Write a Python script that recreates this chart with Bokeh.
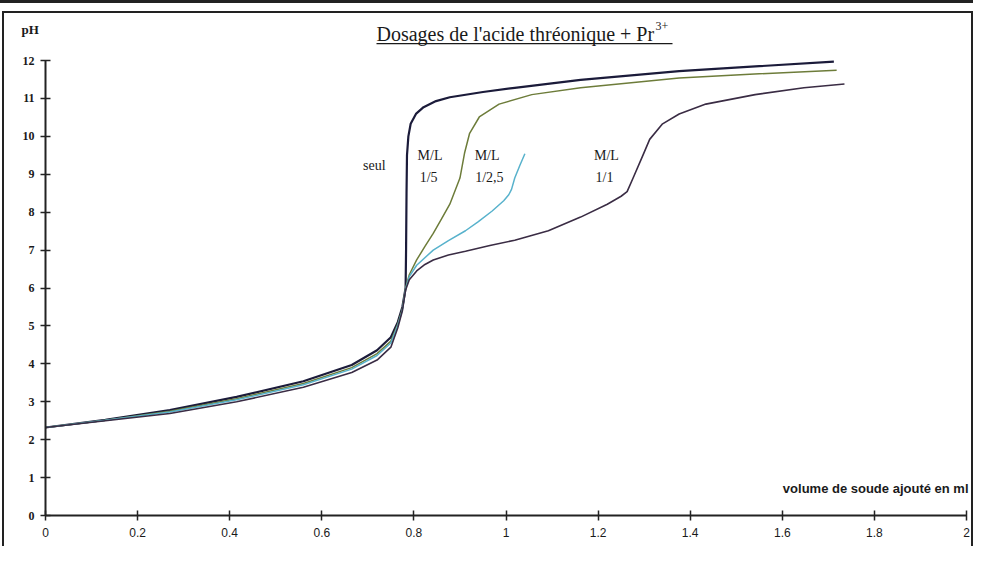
from bokeh.plotting import figure
from bokeh.models import Label, BoxAnnotation, FixedTicker, NumeralTickFormatter, Range1d, ColumnDataSource
from bokeh.core.properties import value
from bokeh.embed import file_html
from bokeh.resources import INLINE

# ---- data (volume of NaOH in ml, pH) ----
seul_x = [0, 0.13, 0.27, 0.415, 0.56, 0.665, 0.72, 0.75, 0.765, 0.775, 0.782,
          0.783, 0.784, 0.785, 0.788, 0.793, 0.805, 0.821, 0.848, 0.878, 0.95,
          1.019, 1.162, 1.376, 1.55, 1.712]
seul_y = [2.32, 2.52, 2.78, 3.13, 3.54, 3.97, 4.36, 4.7, 5.1, 5.5, 6.0,
          7.0, 8.5, 9.5, 10.0, 10.33, 10.6, 10.77, 10.93, 11.03, 11.17,
          11.28, 11.49, 11.72, 11.85, 11.97]

ml15_x = [0, 0.13, 0.27, 0.415, 0.56, 0.665, 0.72, 0.75, 0.765, 0.775, 0.782,
          0.79, 0.806, 0.824, 0.842, 0.86, 0.878, 0.9, 0.91, 0.921, 0.942,
          0.985, 1.056, 1.162, 1.376, 1.55, 1.718]
ml15_y = [2.32, 2.51, 2.75, 3.08, 3.48, 3.9, 4.27, 4.6, 5.05, 5.45, 6.0,
          6.35, 6.74, 7.1, 7.44, 7.82, 8.21, 8.9, 9.56, 10.08, 10.51,
          10.85, 11.1, 11.28, 11.54, 11.65, 11.74]

ml125_x = [0, 0.13, 0.27, 0.415, 0.56, 0.665, 0.72, 0.75, 0.765, 0.775, 0.782,
           0.79, 0.806, 0.842, 0.875, 0.912, 0.94, 0.97, 0.995, 1.006, 1.012,
           1.019, 1.03, 1.041]
ml125_y = [2.32, 2.51, 2.73, 3.05, 3.45, 3.86, 4.22, 4.55, 5.02, 5.42, 5.98,
           6.3, 6.6, 7.0, 7.25, 7.51, 7.75, 8.03, 8.3, 8.46, 8.6,
           8.9, 9.23, 9.54]

ml11_x = [0, 0.13, 0.27, 0.415, 0.56, 0.665, 0.72, 0.75, 0.765, 0.775, 0.782,
          0.79, 0.806, 0.824, 0.842, 0.875, 0.912, 0.965, 1.019, 1.092, 1.162,
          1.22, 1.25, 1.263, 1.276, 1.297, 1.312, 1.34, 1.376, 1.434, 1.541,
          1.647, 1.735]
ml11_y = [2.32, 2.5, 2.69, 3.0, 3.38, 3.77, 4.1, 4.44, 4.95, 5.4, 5.95,
          6.22, 6.45, 6.62, 6.74, 6.87, 6.97, 7.12, 7.26, 7.51, 7.87,
          8.21, 8.42, 8.54, 8.9, 9.49, 9.92, 10.33, 10.59, 10.85, 11.1,
          11.28, 11.38]

curve_label_x = [0.714, 0.835, 0.832, 0.959, 0.964, 1.218, 1.214]
curve_label_y = [9.23, 9.49, 8.92, 9.49, 8.92, 9.49, 8.92]
curve_label_text = ["seul", "M/L", "1/5", "M/L", "1/2,5", "M/L", "1/1"]

x_ticks = [0, 0.2, 0.4, 0.6, 0.8, 1, 1.2, 1.4, 1.6, 1.8, 2]
y_ticks = [0, 1, 2, 3, 4, 5, 6, 7, 8, 9, 10, 11, 12]

title_text = "Dosages de l'acide thréonique + Pr"
title_sup = "3+"
y_title = "pH"
x_title = "volume de soude ajouté en ml"

W, H = 973, 546
INK = "#1a1a1a"

# layout: axes drawn inside a full-canvas frame
X0, X2 = 45.0, 966.0      # canvas x of volume 0 and 2
Y0, Y12 = 515.0, 60.0     # canvas y of pH 0 and 12
sx = (X2 - X0) / 2.0
sy = (Y0 - Y12) / 12.0
x_range = Range1d(-X0 / sx, 2 + (W - X2) / sx)
y_range = Range1d(-(H - Y0) / sy, 12 + Y12 / sy)

p = figure(width=W, height=H, x_range=x_range, y_range=y_range,
           output_backend="svg", toolbar_location=None,
           min_border_left=0, min_border_right=0, min_border_top=0, min_border_bottom=0,
           background_fill_alpha=0, border_fill_alpha=0)
p.outline_line_color = None
p.xgrid.visible = False
p.ygrid.visible = False

# page frame lines (behind the transparent canvas)
p.styles = {
    "background-color": "white",
    "background-image": ", ".join(["linear-gradient(#222,#222)"] * 4),
    "background-repeat": "no-repeat",
    "background-size": "973px 3px, 970px 2px, 2px 540px, 2px 540px",
    "background-position": "0px 0px, 2px 11px, 2px 11px, 971px 11px",
}

for ax in (p.xaxis[0], p.yaxis[0]):
    ax.fixed_location = 0
    ax.axis_line_color = "#222222"
    ax.axis_line_width = 2
    ax.major_tick_line_color = "#222222"
    ax.major_tick_line_width = 1.5
    ax.minor_tick_line_color = None
    ax.major_tick_in = 5
    ax.major_tick_out = 5

p.xaxis.bounds = (0, 2)
p.yaxis.bounds = (0, 12)

p.xaxis.ticker = FixedTicker(ticks=x_ticks)
p.xaxis.formatter = NumeralTickFormatter(format="0.[0]")
p.xaxis.major_label_text_font = "Liberation Sans"
p.xaxis.major_label_text_font_size = "12px"
p.xaxis.major_label_text_color = INK
p.xaxis.major_label_standoff = 7

p.yaxis.ticker = FixedTicker(ticks=y_ticks)
p.yaxis.major_label_text_font = "Liberation Serif"
p.yaxis.major_label_text_font_style = "bold"
p.yaxis.major_label_text_font_size = "12px"
p.yaxis.major_label_text_color = INK
p.yaxis.major_label_standoff = 6

p.line(seul_x, seul_y, line_color="#1b1b3a", line_width=2.2)
p.line(ml15_x, ml15_y, line_color="#6d7c3a", line_width=1.5)
p.line(ml125_x, ml125_y, line_color="#58b2cc", line_width=1.5)
p.line(ml11_x, ml11_y, line_color="#3a2c44", line_width=1.6)

src = ColumnDataSource(dict(x=curve_label_x, y=curve_label_y, t=curve_label_text))
p.text(x="x", y="y", text="t", source=src, text_font=value("Liberation Serif"),
       text_font_size="14px", text_align="center", text_baseline="middle",
       text_color=INK)

# title (underlined, with superscript) -- canvas units, y measured from top
p.add_layout(Label(x=376, y=33, x_units="canvas", y_units="canvas", text=title_text,
                   text_font="Liberation Serif", text_font_size="20px",
                   text_baseline="alphabetic", text_align="left", text_color=INK))
p.add_layout(Label(x=655, y=25, x_units="canvas", y_units="canvas", text=title_sup,
                   text_font="Liberation Serif", text_font_size="12px",
                   text_baseline="alphabetic", text_align="left", text_color=INK))
p.add_layout(BoxAnnotation(left=376, right=672, top=42.5, bottom=43.8,
                           left_units="canvas", right_units="canvas",
                           top_units="canvas", bottom_units="canvas",
                           fill_color=INK, fill_alpha=1, line_color=None))

p.add_layout(Label(x=21, y=29, x_units="canvas", y_units="canvas", text=y_title,
                   text_font="Liberation Serif", text_font_style="bold",
                   text_font_size="13px", text_baseline="alphabetic", text_color=INK))
p.add_layout(Label(x=968, y=488, x_units="canvas", y_units="canvas", text=x_title,
                   text_font="Liberation Sans", text_font_style="bold",
                   text_font_size="13px", text_align="right", text_baseline="middle",
                   text_color=INK))

open("out.html", "w").write(file_html(p, INLINE))
